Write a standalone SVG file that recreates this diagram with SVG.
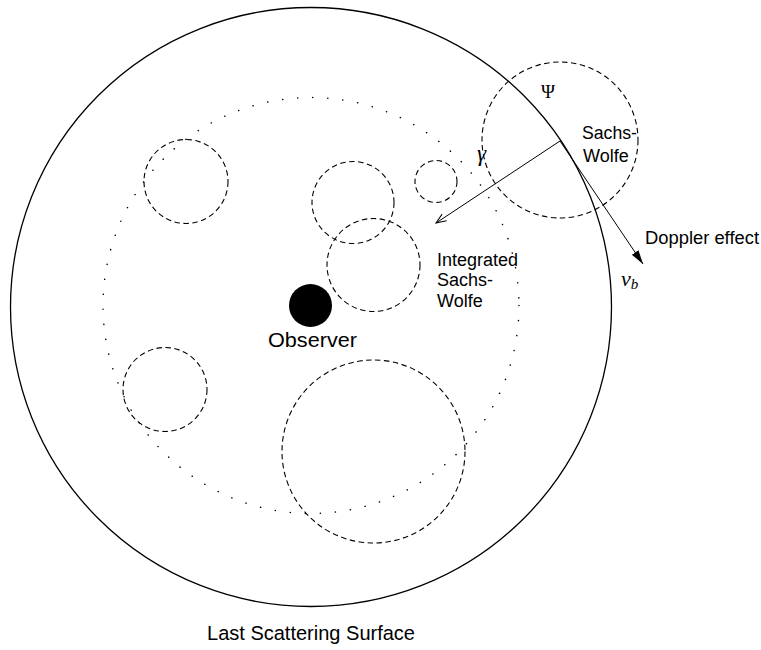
<svg xmlns="http://www.w3.org/2000/svg" width="761" height="650" viewBox="0 0 761 650">
  <style>
    .surface { fill: none; stroke: #000; stroke-width: 1.3; }
    .shell { fill: none; stroke: #000; stroke-width: 1.5; stroke-dasharray: 0.1 15; stroke-linecap: round; }
    .blob { fill: none; stroke: #000; stroke-width: 1.1; stroke-dasharray: 5.5 3.5; }
    .ray { fill: none; stroke: #000; stroke-width: 1; }
    .lbl { font-family: "Liberation Sans", Arial, sans-serif; font-size: 18px; fill: #000; }
    .math { font-family: "Liberation Serif", "Times New Roman", serif; font-size: 19px; fill: #000; }
  </style>
  <defs>
    <marker id="open-head" viewBox="0 0 12 10" refX="11" refY="5" markerWidth="12" markerHeight="10" markerUnits="userSpaceOnUse" orient="auto">
      <path d="M1,1 L11,5 L1,9" fill="none" stroke="#000" stroke-width="1"/>
    </marker>
    <marker id="solid-head" viewBox="0 0 14 10" refX="14" refY="5" markerWidth="14" markerHeight="10" markerUnits="userSpaceOnUse" orient="auto">
      <path d="M0,1 L14,5 L0,9 Z" fill="#000"/>
    </marker>
  </defs>

  <!-- last scattering surface -->
  <g id="last-scattering">
    <ellipse class="surface" cx="311" cy="307" rx="300.5" ry="299.5"/>
    <text class="lbl" x="207" y="640" style="font-size:20.5px" textLength="208" lengthAdjust="spacingAndGlyphs">Last Scattering Surface</text>
  </g>

  <!-- dotted shell around the observer -->
  <g id="horizon-shell">
    <circle class="shell" cx="311" cy="305.5" r="208"/>
  </g>

  <!-- potential wells / hills along the line of sight -->
  <g id="blob-top-left"><circle class="blob" cx="186" cy="181.5" r="42"/></g>
  <g id="blob-mid-upper"><circle class="blob" cx="353" cy="202.5" r="41"/></g>
  <g id="blob-small"><circle class="blob" cx="436" cy="181.5" r="21"/></g>
  <g id="blob-isw"><circle class="blob" cx="373.5" cy="265" r="46.5"/></g>
  <g id="blob-bottom-left"><circle class="blob" cx="165" cy="389.5" r="42"/></g>
  <g id="blob-bottom"><circle class="blob" cx="373.5" cy="451.5" r="91.5"/></g>
  <g id="blob-source"><circle class="blob" cx="560" cy="140" r="78"/></g>

  <!-- observer -->
  <g id="observer">
    <circle cx="310.5" cy="305.5" r="21.5" fill="#000"/>
    <text class="lbl" x="268" y="347" style="font-size:20px" textLength="89" lengthAdjust="spacingAndGlyphs">Observer</text>
  </g>

  <!-- photon path and bulk velocity -->
  <g id="connectors">
    <line class="ray" x1="560" y1="141" x2="436" y2="223" marker-end="url(#open-head)"/>
    <line class="ray" x1="560" y1="141" x2="643" y2="264" marker-end="url(#solid-head)"/>
  </g>

  <!-- labels -->
  <g id="labels">
    <text class="math" x="548" y="98" text-anchor="middle">Ψ</text>
    <text class="math" x="477" y="161" font-style="italic" style="font-size:23px">γ</text>
    <text class="lbl" x="582" y="139" textLength="55" lengthAdjust="spacingAndGlyphs">Sachs-</text>
    <text class="lbl" x="583" y="162">Wolfe</text>
    <text class="lbl" x="437" y="265.5" textLength="81" lengthAdjust="spacingAndGlyphs">Integrated</text>
    <text class="lbl" x="437" y="286">Sachs-</text>
    <text class="lbl" x="437" y="306.5">Wolfe</text>
    <text class="lbl" x="645" y="244" textLength="114" lengthAdjust="spacingAndGlyphs">Doppler effect</text>
    <text class="math" x="621" y="286" font-style="italic" style="font-size:22px">v<tspan font-size="15" dy="3">b</tspan></text>
  </g>
</svg>
